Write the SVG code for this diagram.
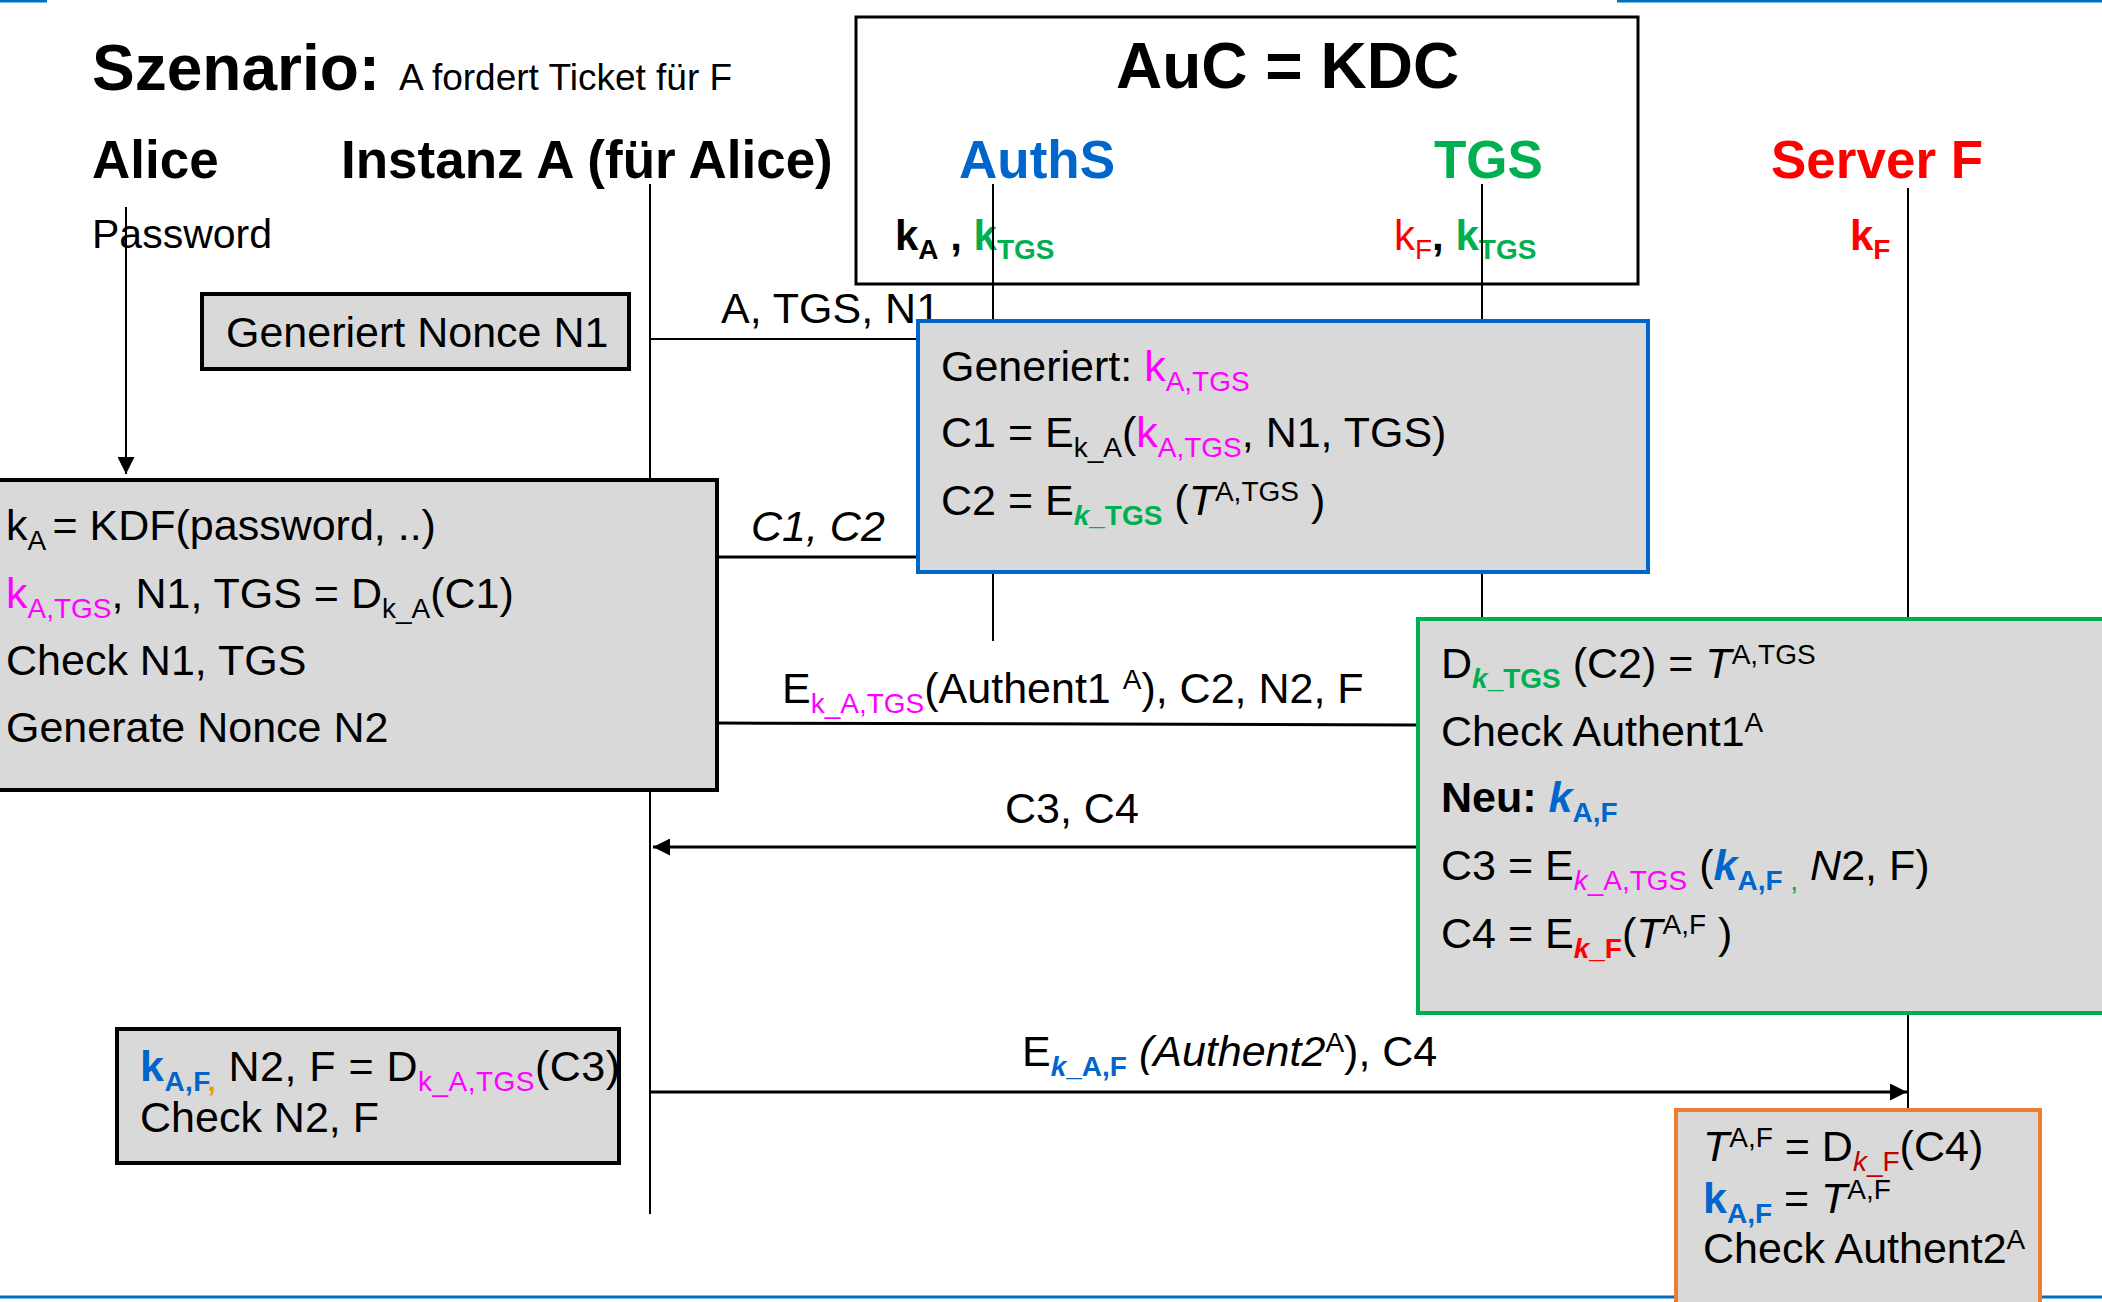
<svg xmlns="http://www.w3.org/2000/svg" width="2102" height="1302" viewBox="0 0 2102 1302">
<defs>
<style>
text{font-family:"Liberation Sans",Arial,sans-serif;font-size:43px;fill:#000}
.b{font-weight:bold}
.n{font-weight:normal}
.i{font-style:italic}
.h{font-weight:bold;font-size:53px}
.s{font-size:28px}
.k{font-size:42px;font-weight:bold}
.mg{fill:#ff00ff}
.gr{fill:#00b050}
.bl{fill:#0066cc}
.rd{fill:#ff0000}
.dr{fill:#c00000}
.go{fill:#e0a000}
.box{fill:#d9d9d9;stroke:#000;stroke-width:4}
.ll{stroke:#000;stroke-width:2;fill:none}
.msg{stroke:#000;stroke-width:3;fill:none}
.frame{stroke:#0070c0;stroke-width:3}
</style>
<marker id="ah" viewBox="0 0 10 10" refX="10" refY="5" markerUnits="userSpaceOnUse" markerWidth="17" markerHeight="17" orient="auto">
<path d="M0,0 L10,5 L0,10 z" fill="#000"/>
</marker>
</defs>
<rect width="2102" height="1302" fill="#fff"/>
<g id="frame">
<line class="frame" x1="0" y1="1" x2="47" y2="1"/>
<line class="frame" x1="1617" y1="1" x2="2102" y2="1"/>
<line class="frame" x1="0" y1="1297" x2="2102" y2="1297"/>
</g>
<g id="title">
<text x="92" y="90" class="b" style="font-size:64px">Szenario:</text>
<text x="399" y="90" style="font-size:37px">A fordert Ticket für F</text>
</g>
<g id="alice">
<text x="92" y="178" class="h">Alice</text>
<text x="92" y="248" style="font-size:41px">Password</text>
</g>
<g id="instanzA">
<text x="341" y="178" class="h">Instanz A (für Alice)</text>
</g>
<g id="kdc">
<rect x="856" y="17" width="782" height="267" fill="#fff" stroke="#000" stroke-width="3"/>
<text x="1116" y="88" class="b" style="font-size:64px">AuC = KDC</text>
</g>
<g id="authS">
<text x="959" y="178" class="h bl">AuthS</text>
<text x="895" y="250" class="k">k<tspan class="s" dy="9">A</tspan><tspan dy="-9"> , </tspan><tspan class="gr">k</tspan><tspan class="s gr" dy="9">TGS</tspan></text>
</g>
<g id="tgs">
<text x="1434" y="178" class="h gr">TGS</text>
<text x="1394" y="250" class="k"><tspan class="n rd">k</tspan><tspan class="s n rd" dy="9">F</tspan><tspan dy="-9">, </tspan><tspan class="gr">k</tspan><tspan class="s gr" dy="9">TGS</tspan></text>
</g>
<g id="serverF">
<text x="1771" y="178" class="h rd">Server F</text>
<text x="1850" y="250" class="k rd">k<tspan class="s" dy="9">F</tspan></text>
</g>
<g id="connectors">
<line class="ll" x1="126" y1="207" x2="126" y2="474" marker-end="url(#ah)"/>
<line class="ll" x1="650" y1="184" x2="650" y2="1214"/>
<line class="ll" x1="993" y1="184" x2="993" y2="641"/>
<line class="ll" x1="1482" y1="184" x2="1482" y2="619"/>
<line class="ll" x1="1908" y1="188" x2="1908" y2="1110"/>
<line class="ll" x1="650" y1="339" x2="918" y2="339"/>
<line class="msg" x1="717" y1="557" x2="918" y2="557"/>
<line class="msg" x1="717" y1="723" x2="1418" y2="725"/>
<line class="msg" x1="1418" y1="847" x2="653" y2="847" marker-end="url(#ah)"/>
<line class="msg" x1="650" y1="1092" x2="1907" y2="1092" marker-end="url(#ah)"/>
<text x="721" y="323">A, TGS, N1</text>
<text x="751" y="541" class="i">C1, C2</text>
<text x="782" y="703">E<tspan class="s mg" dy="10">k_A,TGS</tspan><tspan dy="-10">(Authent1 </tspan><tspan class="s" dy="-14">A</tspan><tspan dy="14">), C2, N2, F</tspan></text>
<text x="1005" y="823">C3, C4</text>
<text x="1022" y="1066">E<tspan class="s bl b" dy="10"><tspan class="i">k</tspan>_A,F</tspan><tspan dy="-10"> </tspan><tspan class="i">(Authent2</tspan><tspan class="s" dy="-14">A</tspan><tspan dy="14">), C4</tspan></text>
</g>
<g id="nonceN1">
<rect class="box" x="202" y="294" width="427" height="75"/>
<text x="226" y="347">Generiert Nonce N1</text>
</g>
<g id="instanzA1">
<rect class="box" x="-4" y="480" width="721" height="310"/>
<text x="6" y="540">k<tspan class="s" dy="10">A </tspan><tspan dy="-10">= KDF(password, ..)</tspan></text>
<text x="6" y="608"><tspan class="mg">k</tspan><tspan class="s mg" dy="10">A,TGS</tspan><tspan dy="-10">, N1, TGS = D</tspan><tspan class="s" dy="10">k_A</tspan><tspan dy="-10">(C1)</tspan></text>
<text x="6" y="675">Check N1, TGS</text>
<text x="6" y="742">Generate Nonce N2</text>
</g>
<g id="authS1">
<rect x="918" y="321" width="730" height="251" fill="#d9d9d9" stroke="#0066cc" stroke-width="4"/>
<text x="941" y="381">Generiert: <tspan class="mg">k</tspan><tspan class="s mg" dy="10">A,TGS</tspan></text>
<text x="941" y="447">C1 = E<tspan class="s" dy="10">k_A</tspan><tspan dy="-10">(</tspan><tspan class="mg">k</tspan><tspan class="s mg" dy="10">A,TGS</tspan><tspan dy="-10">, N1, TGS)</tspan></text>
<text x="941" y="515">C2 = E<tspan class="s gr b" dy="10"><tspan class="i">k</tspan>_TGS</tspan><tspan dy="-10"> (</tspan><tspan class="i">T</tspan><tspan class="s" dy="-14">A,TGS</tspan><tspan dy="14"> )</tspan></text>
</g>
<g id="tgs1">
<rect x="1418" y="619" width="700" height="394" fill="#d9d9d9" stroke="#00b050" stroke-width="4"/>
<text x="1441" y="678">D<tspan class="s gr b" dy="10"><tspan class="i">k</tspan>_TGS</tspan><tspan dy="-10"> (C2) =  </tspan><tspan class="i">T</tspan><tspan class="s" dy="-14">A,TGS</tspan></text>
<text x="1441" y="746">Check Authent1<tspan class="s" dy="-14">A</tspan></text>
<text x="1441" y="812"><tspan class="b">Neu: </tspan><tspan class="b i bl">k</tspan><tspan class="s b bl" dy="10">A,F</tspan></text>
<text x="1441" y="880">C3 = E<tspan class="s mg" dy="10"><tspan class="i">k</tspan>_A,TGS</tspan><tspan dy="-10"> (</tspan><tspan class="b i bl">k</tspan><tspan class="s b bl" dy="10">A,F </tspan><tspan class="s gr">,</tspan><tspan dy="-10"> </tspan><tspan class="i">N</tspan>2, F)</text>
<text x="1441" y="948">C4 = E<tspan class="s rd b" dy="10"><tspan class="i">k</tspan>_F</tspan><tspan dy="-10">(</tspan><tspan class="i">T</tspan><tspan class="s" dy="-14">A,F</tspan><tspan dy="14"> )</tspan></text>
</g>
<g id="instanzA2">
<rect class="box" x="117" y="1029" width="502" height="134"/>
<text x="140" y="1081" textLength="480" lengthAdjust="spacing"><tspan class="b bl">k</tspan><tspan class="s b bl" dy="10">A,F</tspan><tspan class="s b go">,</tspan><tspan dy="-10"> N2, F = D</tspan><tspan class="s mg" dy="10">k_A,TGS</tspan><tspan dy="-10">(C3)</tspan></text>
<text x="140" y="1132">Check N2, F</text>
</g>
<g id="serverF1">
<rect x="1676" y="1110" width="364" height="200" fill="#d9d9d9" stroke="#ed7d31" stroke-width="4"/>
<text x="1703" y="1161"><tspan class="i">T</tspan><tspan class="s" dy="-14">A,F</tspan><tspan dy="14"> = D</tspan><tspan class="s dr" dy="10"><tspan class="i">k</tspan>_F</tspan><tspan dy="-10">(C4)</tspan></text>
<text x="1703" y="1213"><tspan class="b bl">k</tspan><tspan class="s b bl" dy="10">A,F</tspan><tspan dy="-10"> = </tspan><tspan class="i">T</tspan><tspan class="s" dy="-14">A,F</tspan></text>
<text x="1703" y="1263">Check Authent2<tspan class="s" dy="-14">A</tspan></text>
</g>
</svg>
